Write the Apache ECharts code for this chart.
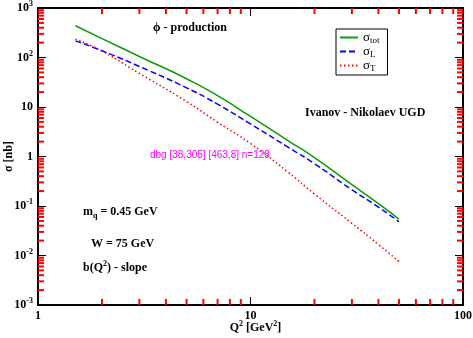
<!DOCTYPE html>
<html lang="en">
<head>
  <meta charset="UTF-8">
  <title>phi production</title>
  <script src="https://cdn.jsdelivr.net/npm/echarts@6/dist/echarts.min.js"></script>
</head>
<body style="margin:0">
<div id="main" style="width: 473px;height: 338px;"></div>
<script>
  // Q^2 [GeV^2]
  let q2 = [1.5, 2, 3, 5, 7, 10, 15, 20, 30, 40, 50]
  // sigma in nb
  let sigmaTot = [437, 241, 105, 37.2, 16.9, 6.44, 2.10, 0.946, 0.269, 0.112, 0.054]
  let sigmaL = [217, 137, 65.9, 24.4, 11.4, 4.54, 1.55, 0.714, 0.213, 0.095, 0.048]
  let sigmaT = [235, 134, 47.6, 12.9, 4.92, 1.83, 0.485, 0.175, 0.0446, 0.0167, 0.0075]

  let xTicks = [1, 10, 100]
  let yTicks = [0.001, 0.01, 0.1, 1, 10, 100, 1000]
  let mantissa = [2, 3, 4, 5, 6, 7, 8, 9]

  let xMinor = []
  xTicks.slice(0, -1).forEach(d => mantissa.forEach(m => xMinor.push(d * m)))
  let yMinor = []
  yTicks.slice(0, -1).forEach(d => mantissa.forEach(m => yMinor.push(d * m)))

  const font = 'Liberation Serif'
  const rich = {
    b: {fontFamily: font, fontWeight: 'bold', fontSize: 12, color: '#000'},
    sup: {fontFamily: font, fontWeight: 'bold', fontSize: 8, color: '#000', padding: [0, 0, 8, 0]},
    sub: {fontFamily: font, fontWeight: 'bold', fontSize: 8, color: '#000', padding: [8, 0, 0, 0]},
    s: {fontFamily: font, fontSize: 13, color: '#000'},
    ls: {fontFamily: font, fontSize: 9, color: '#000', padding: [6, 0, 0, 0]}
  }

  function pair(arr) {
    return q2.map((q, i) => [q, arr[i]])
  }

  function axisBase() {
    return {
      type: 'log',
      logBase: 10,
      axisLine: {show: true, onZero: false, lineStyle: {color: '#000', width: 2}},
      axisTick: {show: true, inside: true, length: 8, lineStyle: {color: '#000', width: 1}},
      splitLine: {show: false},
      nameMoveOverlap: false
    }
  }

  let texts = [
    {type: 'text', left: 153, top: 22, style: {text: 'ϕ - production', fontFamily: font, fontWeight: 'bold', fontSize: 12, fill: '#000'}},
    {type: 'text', left: 305, top: 107, style: {text: 'Ivanov - Nikolaev UGD', fontFamily: font, fontWeight: 'bold', fontSize: 12, fill: '#000'}},
    {type: 'text', left: 83, top: 206, style: {text: '{b|m}{sub|q}{b| = 0.45 GeV}', rich: rich}},
    {type: 'text', left: 91, top: 238, style: {text: '{b|W = 75 GeV}', rich: rich}},
    {type: 'text', left: 83, top: 260, style: {text: '{b|b(Q}{sup|2}{b|) - slope}', rich: rich}}
  ]

  let myChart = echarts.init(document.getElementById('main'))
  let option = {
    animation: false,
    backgroundColor: '#fff',
    grid: {left: 38, right: 10, top: 8, bottom: 33, outerBoundsMode: 'none'},
    xAxis: [
      Object.assign(axisBase(), {
        min: 1, max: 100, position: 'bottom',
        axisLabel: {
          margin: 5, color: '#000', fontFamily: font, fontWeight: 'bold', fontSize: 12,
          formatter: v => String(Math.round(v))
        },
        name: '{b|Q}{sup|2}{b| [GeV}{sup|2}{b|]}',
        nameLocation: 'middle', nameGap: 15,
        nameTextStyle: {rich: rich, padding: [0, 0, 0, 10]}
      }),
      Object.assign(axisBase(), {min: 1, max: 100, position: 'top', axisLabel: {show: false}})
    ],
    yAxis: [
      Object.assign(axisBase(), {
        min: 0.001, max: 1000, splitNumber: 6, position: 'left',
        axisLabel: {
          margin: 5, rich: rich,
          formatter: v => {
            let e = Math.round(Math.log10(v))
            if (e === 0) return '{b|1}'
            if (e === 1) return '{b|10}'
            return '{b|10}{sup|' + e + '}'
          }
        },
        name: 'σ [nb]', nameLocation: 'middle', nameGap: 23,
        nameTextStyle: {fontFamily: font, fontWeight: 'bold', fontSize: 12, color: '#000'}
      }),
      Object.assign(axisBase(), {min: 0.001, max: 1000, splitNumber: 6, position: 'right', axisLabel: {show: false}})
    ],
    legend: {
      orient: 'vertical',
      left: 336, top: 29,
      padding: [2, 8, 2, 3],
      itemWidth: 18, itemHeight: 10, itemGap: 0,
      borderColor: '#000', borderWidth: 1,
      itemStyle: {color: 'transparent', borderWidth: 0, opacity: 0},
      data: ['tot', 'L', 'T'],
      formatter: name => '{s|σ}{ls|' + name + '}',
      textStyle: {rich: rich}
    },
    graphic: texts,
    series: [
      {
        name: 'tot', type: 'line', data: pair(sigmaTot), smooth: 0.6, showSymbol: false, symbol: 'none',
        color: '#0a9a0a', lineStyle: {color: '#0a9a0a', width: 1.5}
      },
      {
        name: 'L', type: 'line', data: pair(sigmaL), smooth: 0.6, showSymbol: false, symbol: 'none',
        color: '#0000ff', lineStyle: {color: '#0000ff', width: 1.5, type: [6, 3]}
      },
      {
        name: 'T', type: 'line', data: pair(sigmaT), smooth: 0.6, showSymbol: false, symbol: 'none',
        color: '#ff0000', lineStyle: {color: '#ff0000', width: 1.5, type: [1.5, 2.5]}
      }
    ]
  }
  myChart.setOption(option)

  // short inward minor ticks on all four sides, placed through the chart's own scales
  let info = ''
  let ticks = []
  try {
    let lo = myChart.convertToPixel({xAxisIndex: 0, yAxisIndex: 0}, [1, 0.001])
    let hi = myChart.convertToPixel({xAxisIndex: 0, yAxisIndex: 0}, [100, 1000])
    info = JSON.stringify(lo) + ' ' + JSON.stringify(hi)
    let tickRect = (x, y, w, h) => ticks.push({type: 'rect', shape: {x: x, y: y, width: w, height: h}, style: {fill: '#f00'}, z: 100})
    xMinor.forEach(v => {
      let px = myChart.convertToPixel({xAxisIndex: 0, yAxisIndex: 0}, [v, 1])[0]
      tickRect(px - 1, lo[1] - 6, 2, 6)
      tickRect(px - 1, hi[1], 2, 6)
    })
    yMinor.forEach(v => {
      let py = myChart.convertToPixel({xAxisIndex: 0, yAxisIndex: 0}, [1, v])[1]
      tickRect(lo[0], py - 1, 6, 2)
      tickRect(hi[0] - 6, py - 1, 6, 2)
    })
  } catch (e) { info = 'ERR ' + e }
  ticks.push({type: 'text', left: 150, top: 150, style: {text: 'dbg ' + info + ' n=' + ticks.length, fontSize: 10, fill: '#f0f'}, z: 100})
  myChart.setOption({graphic: texts.concat(ticks)})
</script>
</body>
</html>
